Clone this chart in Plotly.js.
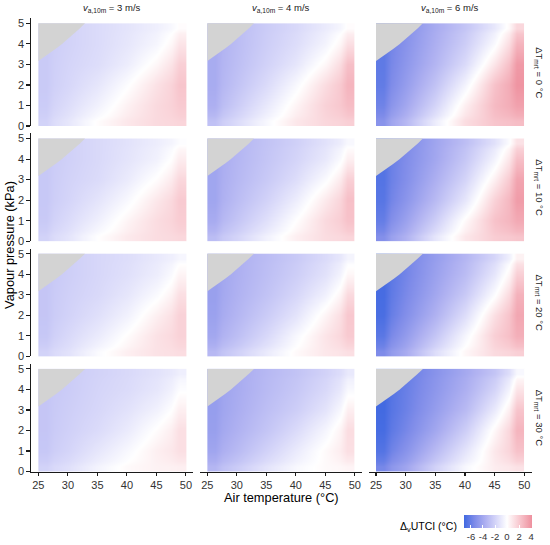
<!DOCTYPE html>
<html><head><meta charset="utf-8">
<script src="https://cdn.plot.ly/plotly-3.0.1.min.js"></script>
<style>html,body{margin:0;padding:0;background:#fff}</style>
</head><body><div id="chart" style="width:550px;height:545px"></div>
<script>
// ---------- data ----------
const airTemp = [25, 30, 35, 40, 45, 50];          // °C (columns of each grid)
const vapour  = [0, 1, 2, 3, 4, 5];                 // kPa (rows of each grid)
const windLabels  = ['3', '4', '6'];                // v_a,10m (m/s)
const dTmrtLabels = ['0', '10', '20', '30'];        // ΔT_mrt (°C)
const xTicks  = [25, 30, 35, 40, 45, 50];
const yTicks  = [0, 1, 2, 3, 4, 5];
const cbTicks = [-6, -4, -2, 0, 2, 4];
// boundary of the grey (undefined) region
const satTa = [25, 26, 27, 28, 29, 30, 31, 32, 32.9];
const satVp = [3.17, 3.36, 3.57, 3.78, 4.0, 4.24, 4.49, 4.75, 5.0];

// ΔvUTCI grids: rows = vapour pressure 0..5, cols = air temperature 25..50
const dUTCI_v3_dT0 = [
  [-2.0,-1.1, 0.1, 0.9, 1.4, 1.6],
  [-2.3,-1.5,-0.6, 0.5, 1.4, 2.0],
  [-2.4,-1.8,-1.1,-0.1, 1.1, 2.2],
  [-2.4,-1.9,-1.5,-0.8, 0.3, 1.8],
  [-2.4,-2.0,-1.6,-1.1,-0.4, 1.0],
  [-2.4,-2.0,-1.6,-1.2,-0.7, 0.1]];
const dUTCI_v4_dT0 = [
  [-2.8,-1.6,-0.3, 0.9, 1.5, 1.8],
  [-3.6,-2.3,-1.0, 0.4, 1.7, 2.5],
  [-3.8,-2.7,-1.6,-0.3, 1.3, 2.8],
  [-3.8,-2.9,-2.0,-1.1, 0.3, 2.4],
  [-3.8,-3.0,-2.2,-1.5,-0.5, 1.2],
  [-3.8,-3.0,-2.3,-1.7,-0.9, 0.1]];
const dUTCI_v6_dT0 = [
  [-5.0,-3.2,-0.8, 1.3, 2.2, 2.5],
  [-5.8,-4.0,-1.9, 0.6, 2.6, 3.5],
  [-6.2,-4.5,-2.7,-0.5, 2.3, 4.0],
  [-6.3,-4.8,-3.3,-1.6, 1.0, 3.8],
  [-6.3,-5.0,-3.6,-2.2,-0.2, 2.8],
  [-6.3,-5.1,-3.8,-2.6,-1.0, 1.5]];
const dUTCI_v3_dT10 = [
  [-2.0,-1.2, 0.0, 0.8, 1.3, 1.5],
  [-2.4,-1.6,-0.7, 0.4, 1.3, 1.9],
  [-2.5,-1.9,-1.2,-0.3, 0.9, 2.0],
  [-2.5,-2.0,-1.6,-0.9, 0.1, 1.5],
  [-2.5,-2.1,-1.7,-1.2,-0.6, 0.7],
  [-2.5,-2.1,-1.7,-1.3,-0.8,-0.1]];
const dUTCI_v4_dT10 = [
  [-3.0,-1.9,-0.6, 0.6, 1.3, 1.6],
  [-3.8,-2.6,-1.4, 0.0, 1.4, 2.3],
  [-4.1,-3.0,-2.0,-0.8, 0.8, 2.4],
  [-4.1,-3.2,-2.4,-1.5,-0.2, 1.8],
  [-4.1,-3.3,-2.6,-1.9,-1.0, 0.6],
  [-4.1,-3.3,-2.7,-2.1,-1.3,-0.3]];
const dUTCI_v6_dT10 = [
  [-5.2,-3.5,-1.1, 0.9, 1.9, 2.2],
  [-6.1,-4.3,-2.2, 0.2, 2.3, 3.2],
  [-6.5,-4.9,-3.1,-1.1, 1.7, 3.7],
  [-6.6,-5.2,-3.6,-1.9, 0.6, 3.4],
  [-6.6,-5.3,-4.0,-2.5,-0.5, 2.4],
  [-6.6,-5.4,-4.1,-2.9,-1.3, 1.1]];
const dUTCI_v3_dT20 = [
  [-2.0,-1.3,-0.2, 0.6, 1.1, 1.3],
  [-2.5,-1.7,-0.9, 0.1, 1.1, 1.7],
  [-2.6,-2.0,-1.4,-0.6, 0.6, 1.7],
  [-2.6,-2.1,-1.7,-1.1,-0.2, 1.2],
  [-2.6,-2.2,-1.8,-1.4,-0.8, 0.4],
  [-2.6,-2.2,-1.8,-1.5,-1.0,-0.4]];
const dUTCI_v4_dT20 = [
  [-3.2,-2.1,-0.9, 0.2, 0.9, 1.2],
  [-4.0,-2.9,-1.7,-0.3, 1.0, 2.0],
  [-4.3,-3.3,-2.3,-1.2, 0.4, 2.1],
  [-4.4,-3.5,-2.7,-1.8,-0.6, 1.4],
  [-4.4,-3.6,-2.9,-2.2,-1.3, 0.3],
  [-4.4,-3.6,-3.0,-2.4,-1.6,-0.5]];
const dUTCI_v6_dT20 = [
  [-5.4,-3.8,-1.5, 0.3, 1.4, 1.8],
  [-6.4,-4.6,-2.6,-0.4, 1.8, 3.0],
  [-6.9,-5.2,-3.5,-1.5, 1.2, 3.3],
  [-7.0,-5.5,-4.0,-2.4,-0.1, 2.9],
  [-7.0,-5.7,-4.3,-3.0,-1.1, 1.8],
  [-7.0,-5.7,-4.5,-3.3,-1.8, 0.5]];
const dUTCI_v3_dT30 = [
  [-2.0,-1.4,-0.5, 0.2, 0.5, 0.6],
  [-2.5,-1.9,-1.1,-0.3, 0.6, 1.2],
  [-2.6,-2.1,-1.6,-0.9, 0.1, 1.2],
  [-2.6,-2.2,-1.8,-1.3,-0.6, 0.6],
  [-2.6,-2.3,-1.9,-1.6,-1.1,-0.1],
  [-2.6,-2.3,-2.0,-1.7,-1.3,-0.7]];
const dUTCI_v4_dT30 = [
  [-3.3,-2.3,-1.2,-0.3, 0.2, 0.4],
  [-4.1,-3.1,-2.0,-0.9, 0.2, 1.2],
  [-4.4,-3.5,-2.6,-1.6,-0.4, 1.3],
  [-4.5,-3.7,-2.9,-2.2,-1.2, 0.6],
  [-4.5,-3.8,-3.1,-2.5,-1.7,-0.3],
  [-4.5,-3.8,-3.2,-2.7,-2.0,-1.0]];
const dUTCI_v6_dT30 = [
  [-5.6,-4.1,-2.0,-0.3, 0.7, 1.1],
  [-6.6,-5.0,-3.1,-1.2, 0.9, 2.3],
  [-7.0,-5.6,-4.0,-2.2, 0.3, 2.8],
  [-7.1,-5.9,-4.5,-3.1,-0.9, 2.2],
  [-7.1,-6.0,-4.8,-3.6,-1.9, 1.0],
  [-7.1,-6.1,-5.0,-3.9,-2.6,-0.3]];

const panelGrids = [
  [dUTCI_v3_dT0,  dUTCI_v4_dT0,  dUTCI_v6_dT0],
  [dUTCI_v3_dT10, dUTCI_v4_dT10, dUTCI_v6_dT10],
  [dUTCI_v3_dT20, dUTCI_v4_dT20, dUTCI_v6_dT20],
  [dUTCI_v3_dT30, dUTCI_v4_dT30, dUTCI_v6_dT30]];

// ---------- layout geometry (pixels) ----------
const W = 550, H = 545;
const colPx = [[31, 193.3], [200, 362.2], [368.6, 531.7]];
const rowPx = [[18.3, 126.5], [133.9, 242.1], [249.5, 357.7], [365.1, 473.3]];
const FONT = 'Liberation Sans, Arial, sans-serif';

// cell edges so that the smoothed raster spans exactly the data range
function edges(a) {
  const e = [a[0]];
  for (let i = 0; i < a.length - 1; i++) e.push((a[i] + a[i + 1]) / 2);
  e.push(a[a.length - 1]);
  return e;
}
const xEdges = edges(airTemp), yEdges = edges(vapour);

const data = [];
const layout = {
  width: W, height: H, autosize: false,
  margin: {l: 0, r: 0, t: 0, b: 0},
  paper_bgcolor: '#fff', plot_bgcolor: 'rgba(0,0,0,0)',
  showlegend: false,
  font: {family: FONT, color: '#000'},
  coloraxis: {
    cmin: -7.16, cmax: 4.16,
    colorscale: [
      [0, '#4169E1'], [0.158, '#7F8CE9'], [0.316, '#AEB0F1'], [0.474, '#D7D7F9'],
      [0.6325, '#FFFFFF'], [0.816, '#F8C8CF'], [1, '#EE909E']],
    colorbar: {
      orientation: 'h', x: 464 / W, xanchor: 'left', y: 1 - 516.7 / H, yanchor: 'top',
      lenmode: 'pixels', len: 67.7, thickness: 12.6, thicknessmode: 'pixels',
      xpad: 0, ypad: 0, outlinewidth: 0,
      tickvals: cbTicks, ticktext: cbTicks.map(String),
      ticks: 'inside', ticklen: 2.5, tickcolor: '#fff', tickwidth: 1,
      tickfont: {size: 9.5, color: '#333', family: FONT}
    }
  },
  annotations: []
};

for (let r = 0; r < 4; r++) {
  for (let c = 0; c < 3; c++) {
    const k = r * 3 + c + 1;
    const xa = 'x' + (k === 1 ? '' : k), ya = 'y' + (k === 1 ? '' : k);
    data.push({
      type: 'heatmap', x: xEdges, y: yEdges, z: panelGrids[r][c],
      coloraxis: 'coloraxis', zsmooth: 'best', hoverinfo: 'skip',
      xaxis: xa, yaxis: ya
    });
    data.push({
      type: 'scatter', mode: 'lines',
      x: satTa.concat([satTa[0]]), y: satVp.concat([satVp[satVp.length - 1]]),
      fill: 'toself', fillcolor: '#D3D3D3', line: {width: 0, shape: 'linear'},
      hoverinfo: 'skip', xaxis: xa, yaxis: ya
    });
    const bottom = r === 3, left = c === 0;
    layout['xaxis' + (k === 1 ? '' : k)] = {
      domain: [colPx[c][0] / W, colPx[c][1] / W],
      anchor: ya, range: [23.75, 51.25], fixedrange: true,
      showgrid: false, zeroline: false,
      showline: bottom, linecolor: '#1a1a1a', linewidth: 1.2,
      ticks: bottom ? 'outside' : '', ticklen: 3.5, tickwidth: 1.1, tickcolor: '#1a1a1a',
      tickvals: xTicks, showticklabels: bottom,
      tickfont: {size: 11, color: '#333', family: FONT}
    };
    layout['yaxis' + (k === 1 ? '' : k)] = {
      domain: [1 - rowPx[r][1] / H, 1 - rowPx[r][0] / H],
      anchor: xa, range: [0, 5.25], fixedrange: true,
      showgrid: false, zeroline: false,
      showline: left, linecolor: '#1a1a1a', linewidth: 1.2,
      ticks: left ? 'outside' : '', ticklen: 3.5, tickwidth: 1.1, tickcolor: '#1a1a1a',
      tickvals: yTicks, showticklabels: left,
      tickfont: {size: 11, color: '#333', family: FONT}
    };
  }
}

// strip labels (top)
for (let c = 0; c < 3; c++) {
  layout.annotations.push({
    xref: 'paper', yref: 'paper', showarrow: false,
    x: (colPx[c][0] + colPx[c][1]) / 2 / W, y: 1 - 8.5 / H,
    xanchor: 'center', yanchor: 'middle',
    text: '<i>v</i><sub>a,10m</sub> = ' + windLabels[c] + ' m/s',
    font: {size: 9.5, color: '#1a1a1a', family: FONT}
  });
}
// strip labels (right)
for (let r = 0; r < 4; r++) {
  layout.annotations.push({
    xref: 'paper', yref: 'paper', showarrow: false,
    x: 539 / W, y: 1 - (rowPx[r][0] + rowPx[r][1]) / 2 / H,
    xanchor: 'center', yanchor: 'middle', textangle: 90,
    text: 'ΔT<sub>mrt</sub> = ' + dTmrtLabels[r] + ' °C',
    font: {size: 9.5, color: '#1a1a1a', family: FONT}
  });
}
// axis titles
layout.annotations.push({
  xref: 'paper', yref: 'paper', showarrow: false,
  x: 10 / W, y: 1 - 245.8 / H, xanchor: 'center', yanchor: 'middle', textangle: -90,
  text: 'Vapour pressure (kPa)', font: {size: 12.8, color: '#000', family: FONT}
});
layout.annotations.push({
  xref: 'paper', yref: 'paper', showarrow: false,
  x: 281.3 / W, y: 1 - 499.5 / H, xanchor: 'center', yanchor: 'middle',
  text: 'Air temperature (°C)', font: {size: 12.8, color: '#000', family: FONT}
});
// colour bar title
layout.annotations.push({
  xref: 'paper', yref: 'paper', showarrow: false,
  x: 458.5 / W, y: 1 - 529 / H, xanchor: 'right', yanchor: 'middle',
  text: 'Δ<sub>v</sub>UTCI (°C)', font: {size: 10.5, color: '#000', family: FONT}
});

Plotly.newPlot('chart', data, layout, {staticPlot: true, displayModeBar: false});
</script>
</body></html>
